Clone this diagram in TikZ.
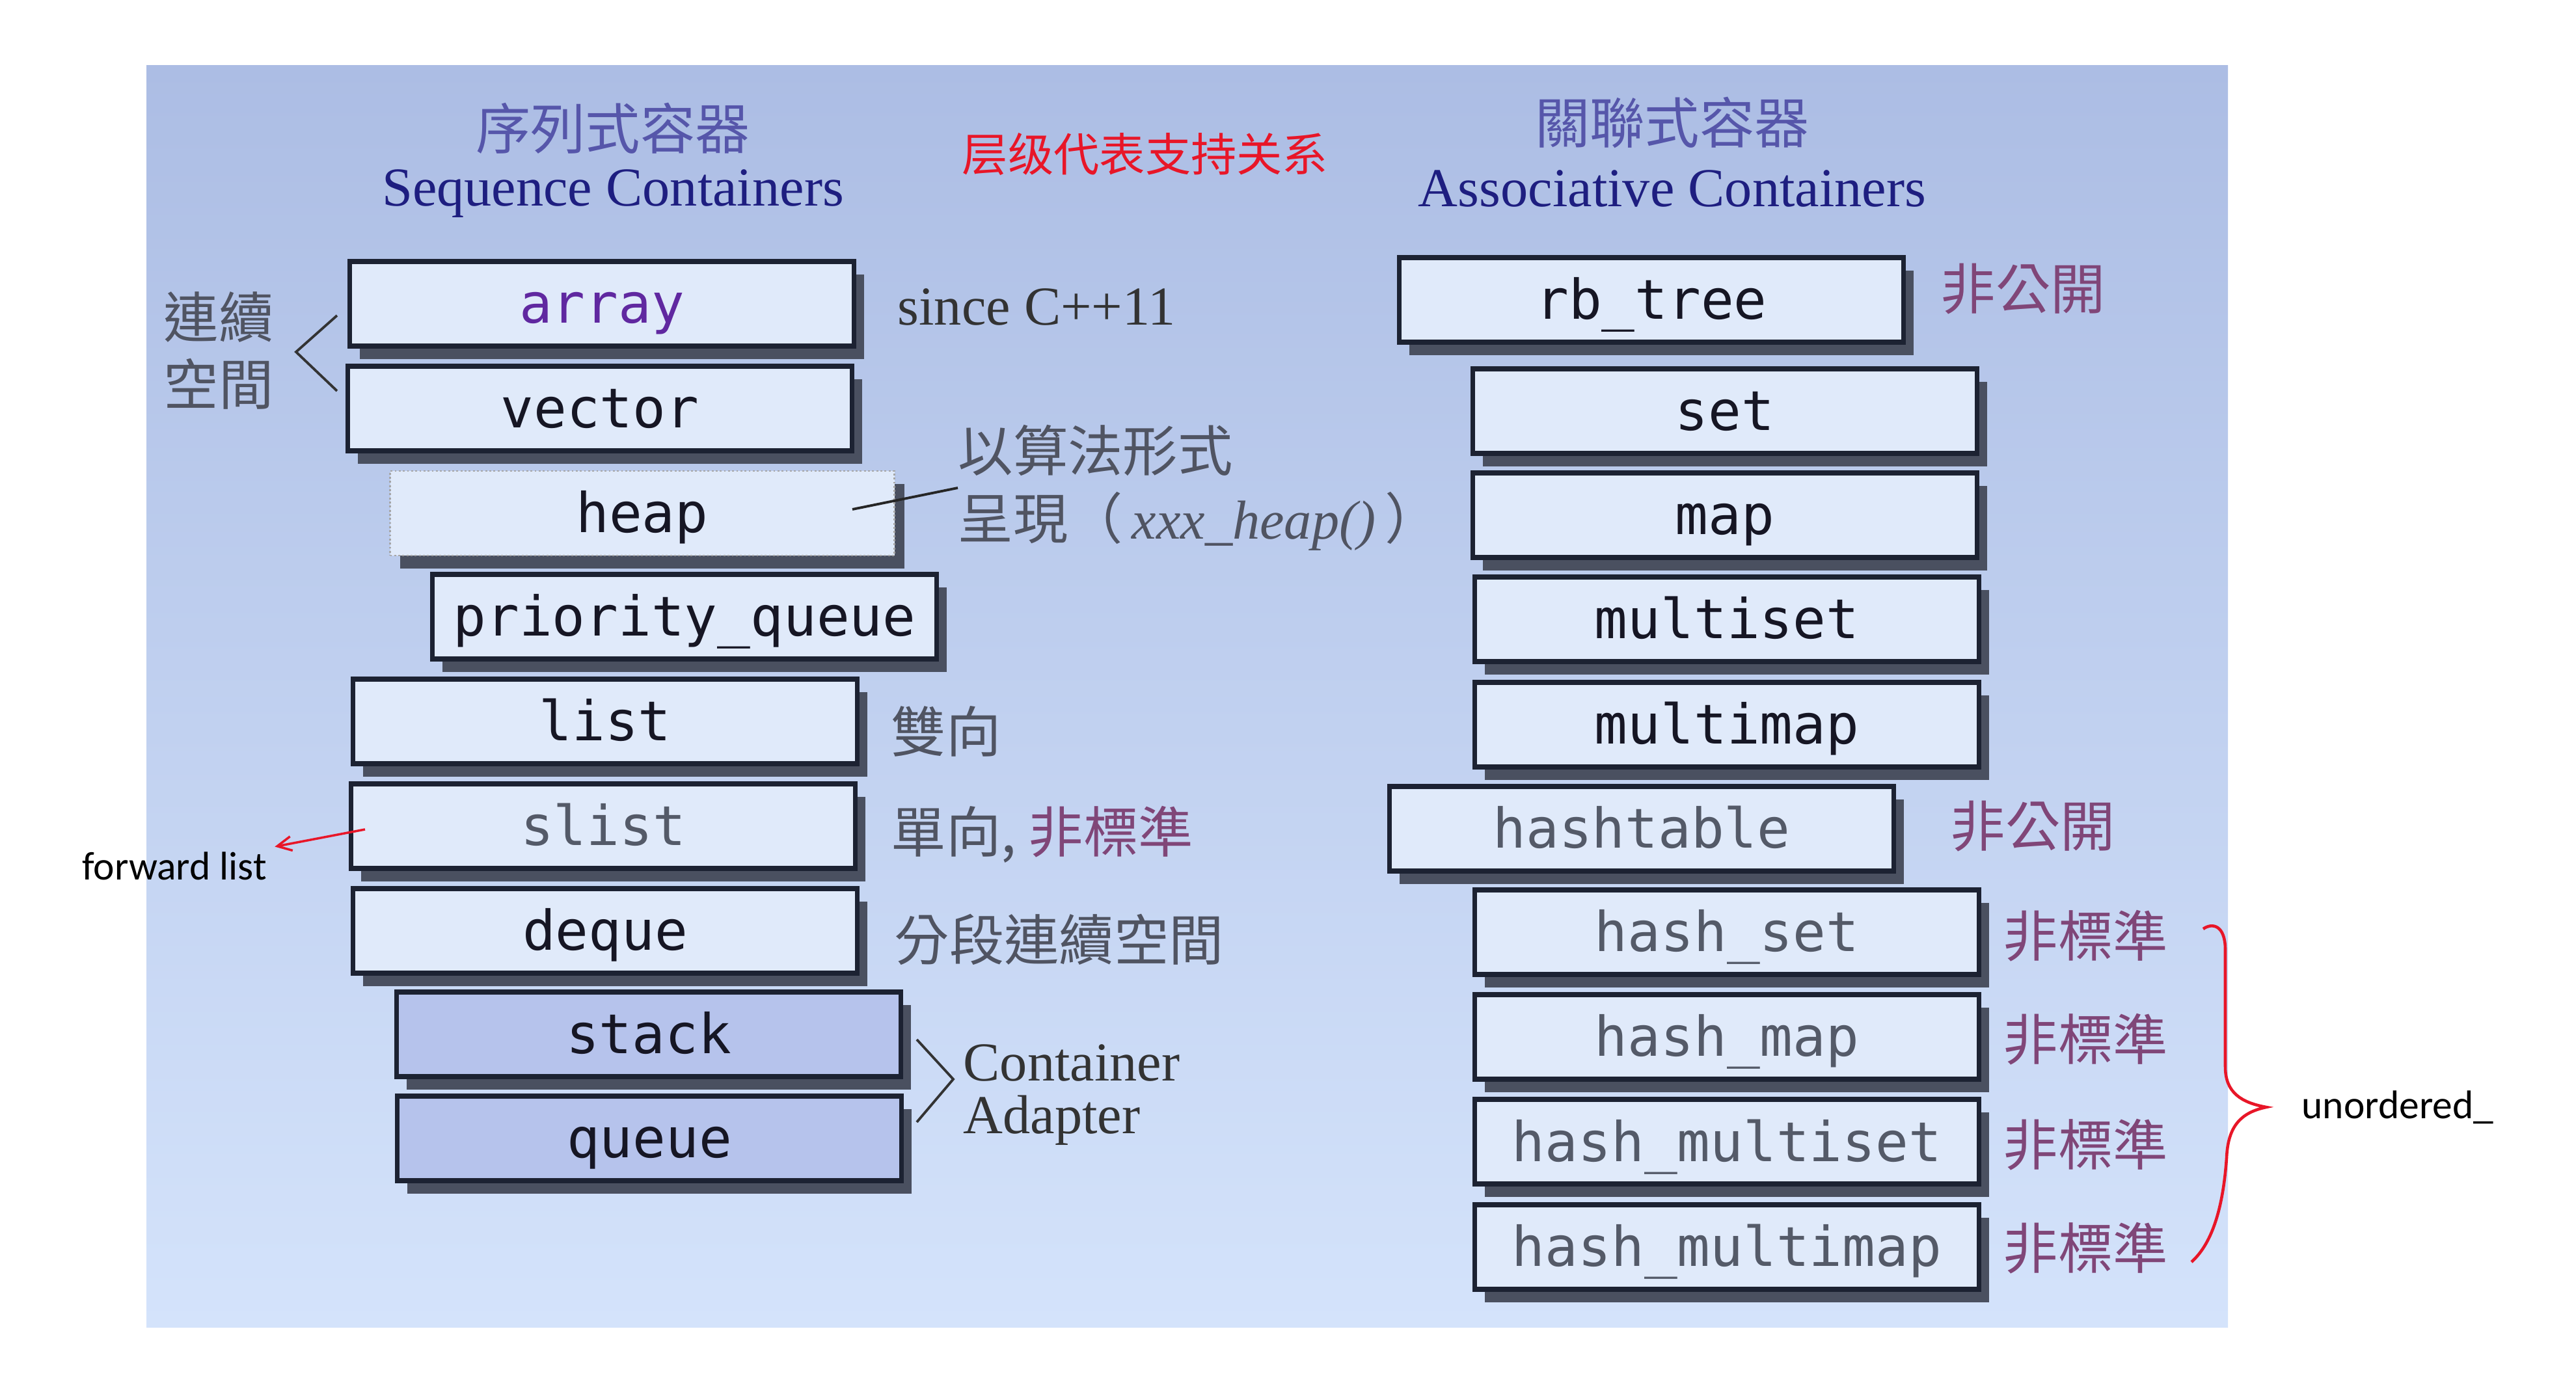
\documentclass[tikz,border=0pt]{standalone}
\usepackage{fontspec}
\setmainfont{Liberation Serif}
\newfontfamily\cjktc{Noto Sans CJK TC}
\newfontfamily\cjksc{Noto Sans CJK SC}
\newfontfamily\codefont{DejaVu Sans Mono}
\newfontfamily\notefont{Carlito}
\usetikzlibrary{shadows,arrows.meta}

\definecolor{bgtop}{RGB}{172,189,228}
\definecolor{bgmid}{RGB}{200,216,246}
\definecolor{bgbot}{RGB}{212,227,251}
\definecolor{hdcn}{RGB}{86,86,170}
\definecolor{hden}{RGB}{30,30,128}
\definecolor{boxline}{RGB}{28,34,50}
\definecolor{boxfill}{RGB}{224,234,250}
\definecolor{adaptfill}{RGB}{182,195,236}
\definecolor{shadowc}{RGB}{74,80,96}
\definecolor{codetxt}{RGB}{22,22,36}
\definecolor{dimtxt}{RGB}{84,90,104}
\definecolor{arraytxt}{RGB}{96,40,160}
\definecolor{greytxt}{RGB}{80,84,98}
\definecolor{nonstd}{RGB}{128,70,120}
\definecolor{markred}{RGB}{232,22,40}

\newcommand\cnsize{\fontsize{24}{29.5}\selectfont}

\begin{document}
\begin{tikzpicture}[
  cbox/.style={draw=boxline, line width=2pt, fill=boxfill, minimum width=7.75cm,
    minimum height=1.3cm, inner sep=0pt, text height=0.75cm, text depth=0.15cm,
    font=\codefont\cnsize, text=codetxt,
    drop shadow={shadow xshift=0.15cm, shadow yshift=-0.2cm, fill=shadowc, opacity=1}},
  adaptbox/.style={cbox, fill=adaptfill},
  heapbox/.style={cbox, draw=gray!70, line width=0.8pt, densely dotted},
  dimbox/.style={cbox, text=dimtxt},
  remark/.style={anchor=west, inner sep=0pt, font=\cjktc\cnsize, text=greytxt},
  serifnote/.style={anchor=west, inner sep=0pt, font=\cnsize, text=black!80},
  pinknote/.style={remark, text=nonstd},
  redmark/.style={markred, line width=1.3pt}]
  % slide background
  \fill[white] (0,0) rectangle (39.59,-21.46);
  \useasboundingbox (0,0) rectangle (39.59,-21.46);
  \shade[top color=bgtop, middle color=bgmid, bottom color=bgbot] (2.25,-1.01) rectangle (34.24,-20.40);

  % headers
  \node[font=\cjktc\cnsize, text=hdcn] (seqcn) at (9.42,-1.97) {序列式容器};
  \node[font=\cnsize, text=hden] (seqen) at (9.42,-2.98) {Sequence Containers};
  \node[font=\cjktc\cnsize, text=hdcn] (asscn) at (25.70,-1.89) {關聯式容器};
  \node[font=\cnsize, text=hden] (assen) at (25.70,-2.90) {Associative Containers};
  \node[font=\cjksc\fontsize{20}{24}\selectfont, text=markred] (title) at (17.60,-2.37) {层级代表支持关系};

  % sequence containers
  \node[cbox, text=arraytxt] (array) at (9.25,-4.67) {array};
  \node[cbox] (vector) at (9.22,-6.28) {vector};
  \node[heapbox] (heap) at (9.87,-7.89) {heap};
  \node[cbox] (pq) at (10.52,-9.48) {priority\_queue};
  \node[cbox] (list) at (9.30,-11.09) {list};
  \node[dimbox] (slist) at (9.27,-12.70) {slist};
  \node[cbox] (deque) at (9.30,-14.31) {deque};
  \node[adaptbox] (stack) at (9.97,-15.90) {stack};
  \node[adaptbox] (queue) at (9.98,-17.50) {queue};

  \node[serifnote] (since) at (13.79,-4.72) {since C++11};
  \node[font=\cjktc\cnsize, text=greytxt, align=center, inner sep=0pt] (contig) at (3.36,-5.39) {連續\\空間};
  \coordinate (lt) at (5.18,-4.85);
  \coordinate (lv) at (4.55,-5.41);
  \coordinate (lb) at (5.18,-6.01);
  \draw[line width=1.1pt, black!80] (lt) -- (lv) -- (lb);

  \node[remark, align=left] (algo) at (14.72,-7.50)
    {以算法形式\\呈現（\,{\rmfamily\itshape xxx\_heap()}\,）};
  \coordinate (hx) at (13.10,-7.83);
  \draw[line width=1.1pt, black!85] (hx) -- (algo.west);

  \node[remark] (bidir) at (13.69,-11.24) {雙向};
  \node[remark] (single) at (13.69,-12.83) {單向, {\color{nonstd}非標準}};
  \node[remark] (segm) at (13.74,-14.44) {分段連續空間};

  \node[serifnote, align=left, font=\fontsize{24}{23}\selectfont] (adapter) at (14.80,-16.83) {Container\\Adapter};
  \coordinate (at) at (14.09,-15.98);
  \coordinate (av) at (14.65,-16.59);
  \coordinate (ab) at (14.09,-17.25);
  \draw[line width=1.1pt, black!80] (at) -- (av) -- (ab);

  \node[font=\notefont\fontsize{17.5}{20}\selectfont, anchor=west] (fwd) at (1.14,-13.31) {forward list};
  \coordinate (fls) at (5.61,-12.75);
  \draw[markred, line width=1pt, -{Straight Barb[length=0.22cm,width=0.22cm]}] (fls) -- (fwd);

  % associative containers
  \node[cbox] (rbtree) at (25.38,-4.61) {rb\_tree};
  \node[cbox] (set) at (26.51,-6.32) {set};
  \node[cbox] (map) at (26.51,-7.92) {map};
  \node[cbox] (mset) at (26.54,-9.52) {multiset};
  \node[cbox] (mmap) at (26.54,-11.14) {multimap};
  \node[dimbox] (htable) at (25.23,-12.74) {hashtable};
  \node[dimbox] (hset) at (26.54,-14.33) {hash\_set};
  \node[dimbox] (hmap) at (26.54,-15.94) {hash\_map};
  \node[dimbox] (hmset) at (26.54,-17.55) {hash\_multiset};
  \node[dimbox] (hmmap) at (26.54,-19.17) {hash\_multimap};

  \node[pinknote] (priv1) at (29.82,-4.44) {非公開};
  \node[pinknote] (priv2) at (29.97,-12.70) {非公開};
  \node[pinknote] (ns1) at (30.78,-14.39) {非標準};
  \node[pinknote] (ns2) at (30.78,-15.98) {非標準};
  \node[pinknote] (ns3) at (30.78,-17.60) {非標準};
  \node[pinknote] (ns4) at (30.78,-19.19) {非標準};

  % hand drawn brace
  \draw[redmark] (33.86,-14.28) .. controls (34.00,-14.18) and (34.20,-14.22) .. (34.20,-14.60)
    -- (34.20,-16.40) .. controls (34.20,-16.80) and (34.45,-16.95) .. (34.83,-17.02)
    .. controls (34.45,-17.10) and (34.24,-17.30) .. (34.22,-17.80)
    .. controls (34.15,-18.80) and (33.90,-19.20) .. (33.68,-19.40);
  \node[font=\notefont\fontsize{17.5}{20}\selectfont, anchor=west] (unord) at (35.25,-17.02) {unordered\_};
\end{tikzpicture}
\end{document}
